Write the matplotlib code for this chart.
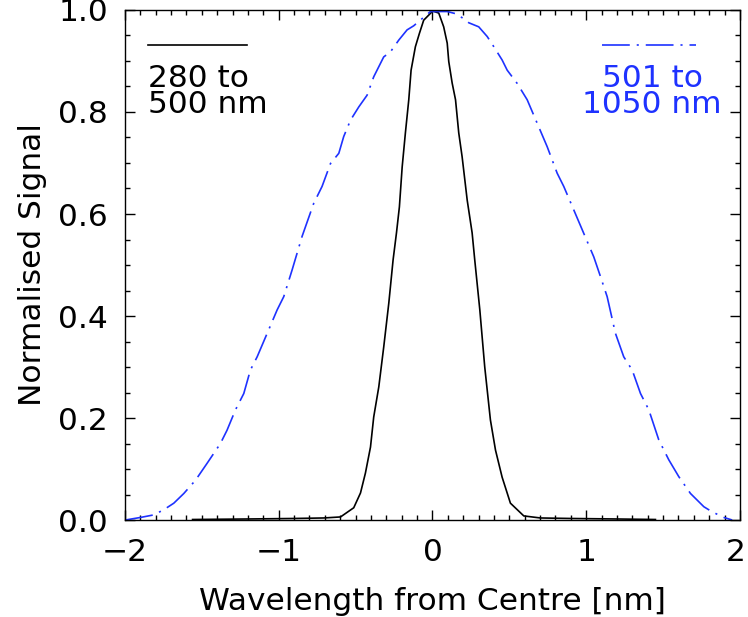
import numpy as np
import matplotlib
matplotlib.use('Agg')
import matplotlib.pyplot as plt
import matplotlib.transforms as mtransforms
from matplotlib.ticker import MultipleLocator, FormatStrFormatter

# ─── DONNÉES ──────────────────────────────────────────────────────────────────
# 280 to 500 nm (trait plein noir)
x_uv = [-1.56, -1.2, -0.9, -0.707, -0.598, -0.512, -0.468, -0.436, -0.403,
        -0.382, -0.349, -0.317, -0.284, -0.256, -0.234, -0.215, -0.197,
        -0.176, -0.154, -0.139, -0.111, -0.085, -0.057, 0.002, 0.041, 0.073,
        0.096, 0.106, 0.128, 0.150, 0.171, 0.193, 0.226, 0.258, 0.275, 0.308,
        0.340, 0.377, 0.410, 0.453, 0.507, 0.594, 0.702, 0.9, 1.2, 1.45]
y_uv = [0.001, 0.002, 0.003, 0.004, 0.006, 0.024, 0.053, 0.092, 0.143,
        0.202, 0.261, 0.339, 0.425, 0.510, 0.563, 0.614, 0.692,
        0.759, 0.824, 0.882, 0.928, 0.954, 0.980, 0.998, 0.994, 0.967,
        0.935, 0.899, 0.857, 0.824, 0.759, 0.712, 0.627, 0.563, 0.510, 0.412,
        0.300, 0.196, 0.137, 0.084, 0.033, 0.008, 0.004, 0.003, 0.002, 0.001]

# 501 to 1050 nm (tiret-point bleu)
x_vis = [-1.997, -1.899, -1.813, -1.748, -1.682, -1.617, -1.541, -1.466,
         -1.379, -1.336, -1.281, -1.227, -1.184, -1.140, -1.075, -1.010,
         -0.967, -0.913, -0.848, -0.772, -0.718, -0.663, -0.609, -0.577,
         -0.533, -0.479, -0.425, -0.382, -0.317, -0.273, -0.219, -0.165,
         -0.122, -0.013, 0.096, 0.161, 0.236, 0.301, 0.356, 0.399, 0.453,
         0.486, 0.551, 0.616, 0.681, 0.746, 0.811, 0.854, 0.919, 0.984,
         1.049, 1.093, 1.136, 1.190, 1.244, 1.299, 1.353, 1.407, 1.472,
         1.537, 1.602, 1.678, 1.765, 1.819, 1.895, 1.949]
y_vis = [0.000, 0.005, 0.010, 0.020, 0.033, 0.052, 0.078, 0.111,
         0.150, 0.176, 0.216, 0.248, 0.294, 0.320, 0.366, 0.412,
         0.438, 0.490, 0.556, 0.621, 0.654, 0.699, 0.719, 0.752,
         0.784, 0.810, 0.833, 0.869, 0.908, 0.918, 0.941, 0.961,
         0.969, 0.997, 0.997, 0.992, 0.975, 0.967, 0.948, 0.928, 0.902,
         0.882, 0.856, 0.824, 0.778, 0.732, 0.680, 0.654, 0.608, 0.562,
         0.516, 0.477, 0.438, 0.366, 0.320, 0.294, 0.248, 0.216, 0.157,
         0.118, 0.085, 0.052, 0.026, 0.016, 0.005, 0.000]

TICKS_X = [-2, -1, 0, 1, 2]
LABEL_UV  = "280 to\n500 nm"
LABEL_VIS = "501 to\n1050 nm"
BLEU = '#1e32ff'
TIRET_POINT = (0, (20, 5, 1.5, 5))

# ─── FIGURE ───────────────────────────────────────────────────────────────────
plt.rcParams['font.family'] = ['DejaVu Sans']
plt.rcParams['lines.scale_dashes'] = False
TAILLE = 22.5

fig = plt.figure(figsize=(7.48, 6.17), dpi=100)
ax = fig.add_axes([0.167, 0.1572, 0.8223, 0.8266])

ax.plot(x_uv, y_uv, color='black', linewidth=1.2)
ax.plot(x_vis, y_vis, color=BLEU, linewidth=1.2, linestyle=TIRET_POINT)

ax.set_xlim(-2, 2)
ax.set_ylim(0, 1.0)
ax.set_xticks(TICKS_X)
ax.xaxis.set_minor_locator(MultipleLocator(0.1))
ax.yaxis.set_major_locator(MultipleLocator(0.2))
ax.yaxis.set_minor_locator(MultipleLocator(0.05))
ax.yaxis.set_major_formatter(FormatStrFormatter('%.1f'))
ax.tick_params(which='both', direction='in', top=True, right=True,
               width=1.0, labelsize=TAILLE)
ax.tick_params(axis='x', pad=13)
ax.tick_params(axis='y', pad=12)
ax.tick_params(which='major', length=7)
ax.tick_params(which='minor', length=3.8)
for s in ax.spines.values():
    s.set_linewidth(1.0)

# le label "2" touche le bord droit : léger décalage vers la gauche
tick_2 = ax.xaxis.get_major_ticks()[-1]
tick_2.label1.set_transform(tick_2.label1.get_transform() +
                            mtransforms.ScaledTranslation(-4 / 100, 0, fig.dpi_scale_trans))

ax.set_xlabel("Wavelength from Centre [nm]", fontsize=TAILLE, labelpad=14)
ax.set_ylabel("Normalised Signal", fontsize=TAILLE, labelpad=8)

# légendes façon IDL
ax.plot([0.0374, 0.198], [0.931, 0.931], color='black', linewidth=1.2,
        transform=ax.transAxes)
ax.text(0.0374, 0.84, LABEL_UV, transform=ax.transAxes, fontsize=TAILLE,
        ha='left', va='center', linespacing=0.9, color='black')
ax.plot([0.775, 0.929], [0.931, 0.931], color=BLEU, linewidth=1.2,
        linestyle=TIRET_POINT, transform=ax.transAxes)
ax.text(0.857, 0.84, LABEL_VIS, transform=ax.transAxes, fontsize=TAILLE,
        ha='center', va='center', multialignment='center', linespacing=0.9,
        color=BLEU)

fig.savefig('out.png', dpi=100)
plt.close(fig)
